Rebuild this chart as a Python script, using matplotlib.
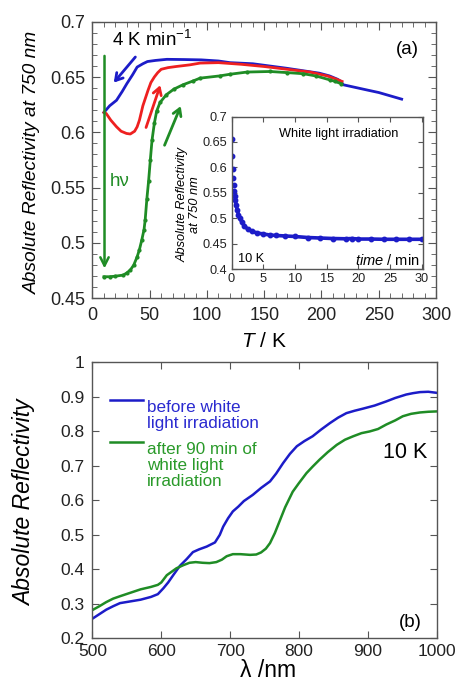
import numpy as np
import matplotlib
matplotlib.use('Agg')
import matplotlib.pyplot as plt
from matplotlib.ticker import MultipleLocator, FormatStrFormatter

plt.rcParams['font.family'] = ['Liberation Sans', 'DejaVu Sans']
plt.rcParams['mathtext.fontset'] = 'custom'
plt.rcParams['mathtext.rm'] = 'Liberation Sans'
plt.rcParams['mathtext.it'] = 'Liberation Sans:italic'

blue = '#1c1cc8'
green = '#1f8c25'
red = '#ee2020'
frame = '#555555'

# (a) reflectivity at 750 nm vs temperature
T_cool = [10, 15, 21, 26, 30, 35, 39, 44, 48, 55, 65, 80, 95, 110, 120, 140, 169, 198,
          207, 214, 217, 219, 230, 241, 250, 260, 270]
R_cool = [0.618, 0.624, 0.629, 0.637, 0.644, 0.652, 0.659, 0.662, 0.664, 0.665, 0.666,
          0.6658, 0.6655, 0.6645, 0.6630, 0.662, 0.658, 0.6535, 0.651, 0.648, 0.646, 0.643,
          0.6405, 0.638, 0.636, 0.633, 0.630]

T_heat = [10, 12, 16, 21, 25, 29.7, 33, 36.8, 39, 41, 44, 48.5, 51, 54, 57, 60, 66, 73,
          85, 94, 110, 130, 150, 170, 190, 205, 213, 218]
R_heat = [0.618, 0.617, 0.611, 0.605, 0.601, 0.599, 0.5985, 0.601, 0.605, 0.611, 0.624,
          0.638, 0.645, 0.650, 0.654, 0.657, 0.6585, 0.6595, 0.661, 0.6626, 0.663, 0.6615,
          0.6595, 0.657, 0.6545, 0.651, 0.648, 0.646]

T_irr = [10, 15, 20, 27, 30, 33, 36, 39, 41, 43, 45, 46, 47.5, 49, 50.5, 52, 54, 56, 59,
         64.5, 71, 79, 88, 94, 111, 120, 135, 155, 170, 184, 195, 207, 212, 217]
R_irr = [0.4695, 0.4695, 0.470, 0.471, 0.473, 0.4755, 0.480, 0.4875, 0.494, 0.5025, 0.512,
         0.5207, 0.540, 0.556, 0.575, 0.593, 0.608, 0.619, 0.627, 0.634, 0.639, 0.643,
         0.6465, 0.649, 0.651, 0.6525, 0.6545, 0.655, 0.654, 0.653, 0.651, 0.6475, 0.646, 0.644]

# inset: reflectivity vs irradiation time at 10 K
t_min = [0.0, 0.08, 0.17, 0.25, 0.33, 0.42, 0.5, 0.6, 0.75, 0.9, 1.1, 1.3, 1.6, 2.0, 2.6,
         3.3, 4.0, 5.0, 6.0, 7.0, 8.5, 10, 12, 14, 16, 18, 19, 20, 22, 24, 26, 28, 30]
R_t = [0.655, 0.622, 0.597, 0.580, 0.566, 0.553, 0.544, 0.536, 0.525, 0.516, 0.507, 0.500,
       0.493, 0.485, 0.478, 0.474, 0.471, 0.469, 0.467, 0.466, 0.465, 0.464, 0.462, 0.461,
       0.460, 0.4595, 0.460, 0.459, 0.459, 0.4585, 0.4585, 0.4585, 0.4585]

# (b) spectra at 10 K
wl_before = [500, 510, 520, 530, 540, 555, 570, 585, 595, 603, 610, 618, 627, 637, 646, 655,
             666, 678, 685, 690, 697, 704, 712, 720, 733, 745, 758, 767, 777, 787, 797, 808,
             820, 832, 845, 857, 869, 881, 893, 910, 927, 940, 956, 966, 976, 988, 1000]
R_before = [0.257, 0.270, 0.283, 0.293, 0.302, 0.307, 0.312, 0.320, 0.328, 0.345, 0.362,
            0.385, 0.410, 0.430, 0.450, 0.458, 0.466, 0.478, 0.500, 0.524, 0.548, 0.568,
            0.582, 0.598, 0.616, 0.636, 0.655, 0.678, 0.708, 0.735, 0.757, 0.772, 0.786,
            0.805, 0.824, 0.840, 0.853, 0.860, 0.866, 0.875, 0.887, 0.897, 0.907, 0.911,
            0.914, 0.915, 0.912]

wl_after = [500, 510, 520, 530, 540, 555, 570, 585, 595, 600, 608, 615, 622, 632, 641, 650,
            660, 670, 680, 688, 695, 704, 715, 729, 738, 745, 752, 758, 765, 772, 780, 791,
            800, 811, 820, 830, 842, 855, 867, 879, 891, 903, 915, 927, 940, 951, 963, 976,
            988, 1000]
R_after = [0.282, 0.293, 0.305, 0.315, 0.322, 0.332, 0.342, 0.349, 0.355, 0.362, 0.383,
           0.393, 0.403, 0.412, 0.419, 0.421, 0.419, 0.418, 0.421, 0.428, 0.438, 0.444,
           0.444, 0.442, 0.443, 0.449, 0.460, 0.476, 0.505, 0.540, 0.580, 0.625, 0.650,
           0.679, 0.698, 0.718, 0.740, 0.761, 0.776, 0.786, 0.795, 0.800, 0.807, 0.820,
           0.832, 0.844, 0.851, 0.855, 0.857, 0.858]


def style_axes(ax, size, major, minor=None):
    for s in ax.spines.values():
        s.set_color(frame)
        s.set_linewidth(1.0)
    ax.tick_params(which='both', direction='in', top=True, right=True, color=frame,
                   labelsize=size, labelcolor='#222222')
    ax.tick_params(which='major', length=major)
    if minor:
        ax.tick_params(which='minor', length=minor)


fig = plt.figure(figsize=(4.59, 6.87), dpi=100)

# ---------- panel (a)
ax1 = fig.add_axes([0.2015, 0.5658, 0.7484, 0.4026])
ax1.plot(T_cool, R_cool, color=blue, lw=2.0)
ax1.plot(T_heat, R_heat, color=red, lw=2.0)
ax1.plot(T_irr, R_irr, color=green, lw=2.0, marker='o', ms=2)
ax1.set_xlim(0, 300)
ax1.set_ylim(0.45, 0.7)
ax1.xaxis.set_major_locator(MultipleLocator(50))
ax1.xaxis.set_minor_locator(MultipleLocator(10))
ax1.yaxis.set_major_locator(MultipleLocator(0.05))
ax1.yaxis.set_minor_locator(MultipleLocator(0.01))
ax1.yaxis.set_major_formatter(FormatStrFormatter('%g'))
style_axes(ax1, 13, 6, 3.5)
ax1.tick_params(axis='x', pad=6)
ax1.tick_params(axis='y', pad=5)
ax1.set_xlabel(r'$\mathit{T}$ / K', fontsize=15, va='center')
ax1.xaxis.set_label_coords(0.5, -0.158)
ax1.set_ylabel('Absolute Reflectivity at 750 nm', fontsize=13.8, style='italic', va='center')
ax1.yaxis.set_label_coords(-0.176, 0.491)

arrow = dict(arrowstyle='->,head_length=0.5,head_width=0.3', lw=2)
ax1.annotate('', xy=(17, 0.643), xytext=(39, 0.670), arrowprops=dict(arrow, color=blue))
ax1.annotate('', xy=(60, 0.645), xytext=(46, 0.602), arrowprops=dict(arrow, color=red))
ax1.annotate('', xy=(78, 0.626), xytext=(62, 0.586), arrowprops=dict(arrow, color=green))
ax1.annotate('', xy=(10.5, 0.4745), xytext=(10.5, 0.6716),
             arrowprops=dict(arrowstyle='->,head_length=0.6,head_width=0.3', lw=1.8, color=green))
ax1.text(0.057, 0.934, r'4 K min$^{-1}$', transform=ax1.transAxes, fontsize=13.5,
         ha='left', va='center')
ax1.text(0.051, 0.422, 'hν', transform=ax1.transAxes, fontsize=13.5, color=green,
         ha='left', va='center')
ax1.text(0.917, 0.901, '(a)', transform=ax1.transAxes, fontsize=13.5, ha='center', va='center')

# ---------- inset
ax_in = fig.add_axes([0.5044, 0.6084, 0.4172, 0.222])
ax_in.plot(t_min[6:], R_t[6:], color=blue, lw=2.6)
ax_in.plot(t_min, R_t, color=blue, lw=0, marker='o', ms=3.2)
ax_in.set_xlim(0, 30.2)
ax_in.set_ylim(0.4, 0.7)
ax_in.xaxis.set_major_locator(MultipleLocator(5))
ax_in.yaxis.set_major_locator(MultipleLocator(0.05))
ax_in.yaxis.set_major_formatter(FormatStrFormatter('%g'))
style_axes(ax_in, 9.2, 3.5)
ax_in.tick_params(pad=3)
ax_in.text(-0.225, 0.423, 'Absolute Reflectivity\nat 750 nm', transform=ax_in.transAxes,
           rotation=90, ha='center', va='center', fontsize=9.2, style='italic',
           linespacing=1.05)
ax_in.text(0.561, 0.885, 'White light irradiation', transform=ax_in.transAxes,
           fontsize=9.2, ha='center', va='center')
ax_in.text(0.035, 0.064, '10 K', transform=ax_in.transAxes, fontsize=9.2,
           ha='left', va='center')
ax_in.text(0.984, 0.059, r'$\mathit{time}$ / min', transform=ax_in.transAxes,
           fontsize=10.5, ha='right', va='center')

# ---------- panel (b)
ax2 = fig.add_axes([0.2015, 0.0709, 0.7495, 0.4015])
ax2.plot(wl_before, R_before, color=blue, lw=1.8)
ax2.plot(wl_after, R_after, color=green, lw=1.8)
ax2.set_xlim(500, 1000)
ax2.set_ylim(0.2, 1.0)
ax2.xaxis.set_major_locator(MultipleLocator(100))
ax2.yaxis.set_major_locator(MultipleLocator(0.1))
ax2.yaxis.set_major_formatter(FormatStrFormatter('%g'))
style_axes(ax2, 12.5, 5)
ax2.tick_params(axis='x', pad=4)
ax2.tick_params(axis='y', pad=6)
ax2.set_xlabel('λ /nm', fontsize=16.5, va='center')
ax2.xaxis.set_label_coords(0.51, -0.115)
ax2.set_ylabel('Absolute Reflectivity', fontsize=16.5, style='italic', va='center')
ax2.yaxis.set_label_coords(-0.196, 0.492)

ax2.plot([0.051, 0.147], [0.864, 0.864], color=blue, lw=1.8, transform=ax2.transAxes)
ax2.plot([0.051, 0.147], [0.712, 0.712], color=green, lw=1.8, transform=ax2.transAxes)
ax2.text(0.158, 0.864, 'before white\nlight irradiation', transform=ax2.transAxes,
         color='#2a2ad0', fontsize=12.3, ha='left', va='top', linespacing=1.1)
ax2.text(0.158, 0.712, 'after 90 min of\nwhite light\nirradiation', transform=ax2.transAxes,
         color='#2a9a2a', fontsize=12.3, ha='left', va='top', linespacing=1.1)
ax2.text(0.908, 0.672, '10 K', transform=ax2.transAxes, fontsize=15.5, ha='center', va='center')
ax2.text(0.923, 0.056, '(b)', transform=ax2.transAxes, fontsize=13.5, ha='center', va='center')

plt.savefig('out.png', dpi=100)
